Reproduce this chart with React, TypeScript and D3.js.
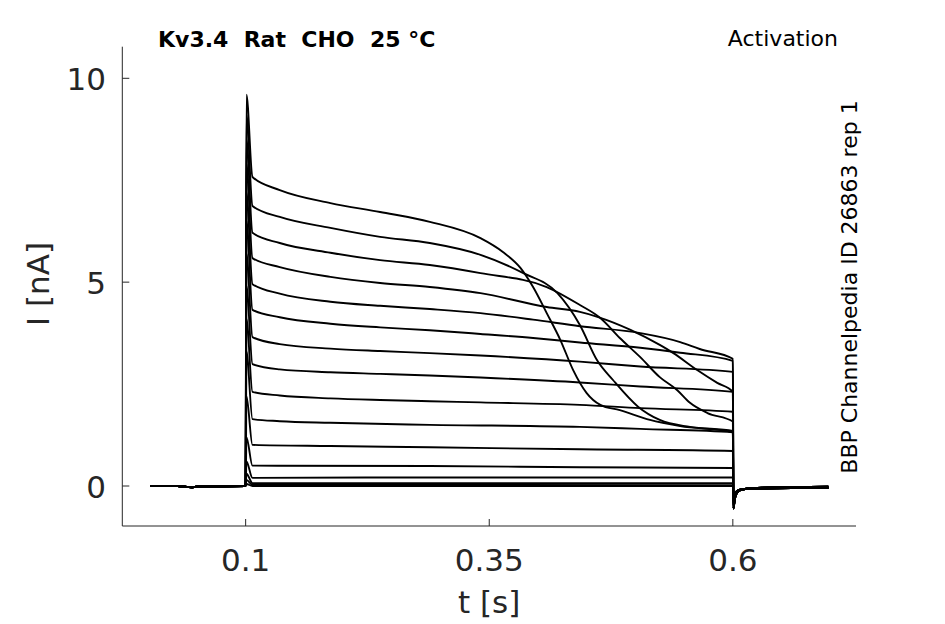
import React from "react";
import * as d3 from "d3";

type Pt = [number, number];

// chart frame (px) and domains
const WIDTH = 945;
const HEIGHT = 624;
const X_DOMAIN: Pt = [-0.0266, 0.7264];
const Y_DOMAIN: Pt = [-0.981, 10.775];

const X_TICKS = [0.1, 0.35, 0.6];
const X_TICK_LABELS = ["0.1", "0.35", "0.6"];
const Y_TICKS = [0, 5, 10];
const Y_TICK_LABELS = ["0", "5", "10"];

// holding current before the step
const PRE_PULSE: Pt[] = [
  [0.002, 0], [0.03, 0], [0.045, -0.03], [0.055, -0.01], [0.1, 0],
];

// capacitive spike peak at the step onset, one per sweep
const SPIKE_PEAKS = [9.6, 9.1, 8.5, 7.9, 7.2, 6.5, 5.7, 4.9, 4.1, 3.3, 2.2, 1.2, 0.6, 0.3, 0.15, 0.05];

// current during the step, one array per sweep (t [s], I [nA])
const SWEEP_1: Pt[] = [
  [0.107, 7.58], [0.135, 7.26], [0.187, 6.94], [0.238, 6.72], [0.289, 6.48], [0.341, 6.08],
  [0.364, 5.74], [0.382, 5.35], [0.395, 4.88], [0.409, 4.24], [0.423, 3.58], [0.436, 2.85],
  [0.45, 2.28], [0.464, 1.99], [0.484, 1.86], [0.515, 1.62], [0.546, 1.47], [0.6, 1.32],
];
const SWEEP_2: Pt[] = [
  [0.107, 6.87], [0.135, 6.6], [0.187, 6.33], [0.238, 6.11], [0.289, 5.96], [0.341, 5.67],
  [0.385, 5.22], [0.42, 4.73], [0.443, 3.95], [0.461, 3.07], [0.477, 2.6], [0.503, 1.94],
  [0.525, 1.62], [0.556, 1.45], [0.6, 1.35],
];
const SWEEP_3: Pt[] = [
  [0.107, 6.21], [0.135, 5.96], [0.187, 5.72], [0.238, 5.54], [0.289, 5.42], [0.341, 5.22],
  [0.409, 4.88], [0.443, 4.44], [0.464, 4.12], [0.484, 3.63], [0.505, 3.16], [0.525, 2.67],
  [0.543, 2.35], [0.556, 2.04], [0.574, 1.79], [0.6, 1.58],
];
const SWEEP_4: Pt[] = [
  [0.107, 5.59], [0.135, 5.37], [0.187, 5.13], [0.238, 4.98], [0.289, 4.88], [0.341, 4.73],
  [0.409, 4.39], [0.443, 4.27], [0.461, 4.15], [0.495, 3.83], [0.525, 3.46], [0.539, 3.26],
  [0.563, 2.85], [0.584, 2.53], [0.6, 2.31],
];
const SWEEP_5: Pt[] = [
  [0.107, 4.95], [0.135, 4.72], [0.187, 4.52], [0.238, 4.42], [0.289, 4.34], [0.341, 4.24],
  [0.395, 4.08], [0.443, 3.92], [0.505, 3.75], [0.546, 3.53], [0.566, 3.36], [0.6, 3.12],
];
const SWEEP_6: Pt[] = [
  [0.107, 4.32], [0.135, 4.14], [0.187, 3.98], [0.238, 3.89], [0.289, 3.82], [0.341, 3.73],
  [0.395, 3.63], [0.443, 3.52], [0.505, 3.39], [0.546, 3.27], [0.6, 3.07],
];
const SWEEP_7: Pt[] = [
  [0.107, 3.65], [0.135, 3.48], [0.187, 3.37], [0.238, 3.31], [0.289, 3.26], [0.341, 3.2],
  [0.443, 3.05], [0.505, 2.93], [0.6, 2.8],
];
const SWEEP_8: Pt[] = [
  [0.107, 2.99], [0.135, 2.86], [0.187, 2.79], [0.238, 2.75], [0.289, 2.71], [0.341, 2.66],
  [0.443, 2.54], [0.505, 2.44], [0.6, 2.31],
];
const SWEEP_9: Pt[] = [
  [0.107, 2.31], [0.135, 2.22], [0.187, 2.15], [0.238, 2.11], [0.289, 2.08], [0.341, 2.05],
  [0.443, 1.99], [0.505, 1.91], [0.6, 1.82],
];
const SWEEP_10: Pt[] = [
  [0.107, 1.64], [0.135, 1.59], [0.187, 1.55], [0.289, 1.5], [0.443, 1.45], [0.505, 1.4], [0.6, 1.32],
];
const SWEEP_11: Pt[] = [[0.107, 1.01], [0.187, 0.98], [0.289, 0.95], [0.443, 0.9], [0.6, 0.86]];
const SWEEP_12: Pt[] = [[0.107, 0.5], [0.289, 0.49], [0.443, 0.46], [0.6, 0.44]];
const SWEEP_13: Pt[] = [[0.107, 0.2], [0.289, 0.21], [0.443, 0.21], [0.6, 0.21]];
const SWEEP_14: Pt[] = [[0.107, 0.07], [0.6, 0.07]];
const SWEEP_15: Pt[] = [[0.107, 0.03], [0.6, 0.02]];
const SWEEP_16: Pt[] = [[0.107, 0.0], [0.6, 0.0]];

const SWEEPS = [
  SWEEP_1, SWEEP_2, SWEEP_3, SWEEP_4, SWEEP_5, SWEEP_6, SWEEP_7, SWEEP_8,
  SWEEP_9, SWEEP_10, SWEEP_11, SWEEP_12, SWEEP_13, SWEEP_14, SWEEP_15, SWEEP_16,
];

// tail current after the step
const TAIL_DEEP: Pt[] = [
  [0.6006, -0.55], [0.602, -0.32], [0.604, -0.18], [0.608, -0.1], [0.615, -0.06],
  [0.63, -0.04], [0.66, -0.03], [0.698, -0.02],
];
const TAIL_SHALLOW: Pt[] = [
  [0.6006, -0.35], [0.602, -0.2], [0.605, -0.11], [0.61, -0.08], [0.63, -0.06],
  [0.66, -0.05], [0.698, -0.05],
];

const AXIS_COLOR = "#262626";
const FONT = "DejaVu Sans, sans-serif";

export default function App() {
  const x = d3.scaleLinear().domain(X_DOMAIN).range([122.3, 856]);
  const y = d3.scaleLinear().domain(Y_DOMAIN).range([526, 46.7]);

  const line = d3
    .line<Pt>()
    .x((d) => x(d[0]))
    .y((d) => y(d[1]))
    .curve(d3.curveMonotoneX);

  const paths = SWEEPS.map((sweep, i) => {
    const tail = i % 2 === 0 ? TAIL_DEEP : TAIL_SHALLOW;
    const pts: Pt[] = [...PRE_PULSE, [0.1008, SPIKE_PEAKS[i]], ...sweep, ...tail];
    return line(pts) || "";
  });

  const [x0, x1] = x.range();
  const [yb, yt] = y.range();

  return (
    <svg
      width={WIDTH}
      height={HEIGHT}
      style={{ position: "absolute", left: 0, top: 0, background: "#fff" }}
    >
      <rect width={WIDTH} height={HEIGHT} fill="#fff" />

      {/* traces */}
      <g fill="none" stroke="#000" strokeWidth={1.9} strokeLinejoin="round">
        {paths.map((d, i) => (
          <path key={i} d={d} />
        ))}
      </g>

      {/* axes */}
      <g stroke={AXIS_COLOR} strokeWidth={1} fill="none">
        <line x1={x0} x2={x1} y1={yb} y2={yb} />
        <line x1={x0} x2={x0} y1={yb} y2={yt} />
        {X_TICKS.map((t) => (
          <line key={t} x1={x(t)} x2={x(t)} y1={yb} y2={yb - 7} />
        ))}
        {Y_TICKS.map((t) => (
          <line key={t} x1={x0} x2={x0 + 7} y1={y(t)} y2={y(t)} />
        ))}
      </g>

      <g fill={AXIS_COLOR} fontFamily={FONT} fontSize={31}>
        {X_TICKS.map((t, i) => (
          <text key={t} x={x(t)} y={571} textAnchor="middle">
            {X_TICK_LABELS[i]}
          </text>
        ))}
        {Y_TICKS.map((t, i) => (
          <text key={t} x={106} y={y(t) + 12} textAnchor="end">
            {Y_TICK_LABELS[i]}
          </text>
        ))}
        <text x={(x0 + x1) / 2} y={613} textAnchor="middle">
          t [s]
        </text>
        <text transform="translate(49,284) rotate(-90)" textAnchor="middle">
          I [nA]
        </text>
      </g>

      <g fill="#000" fontFamily={FONT} fontSize={22}>
        <text x={158} y={47} fontWeight="bold" style={{ whiteSpace: "pre" }}>
          {"Kv3.4  Rat  CHO  25 °C"}
        </text>
        <text x={838} y={46} textAnchor="end">
          Activation
        </text>
        <text transform="translate(857,287) rotate(-90)" textAnchor="middle">
          BBP Channelpedia ID 26863 rep 1
        </text>
      </g>
    </svg>
  );
}
